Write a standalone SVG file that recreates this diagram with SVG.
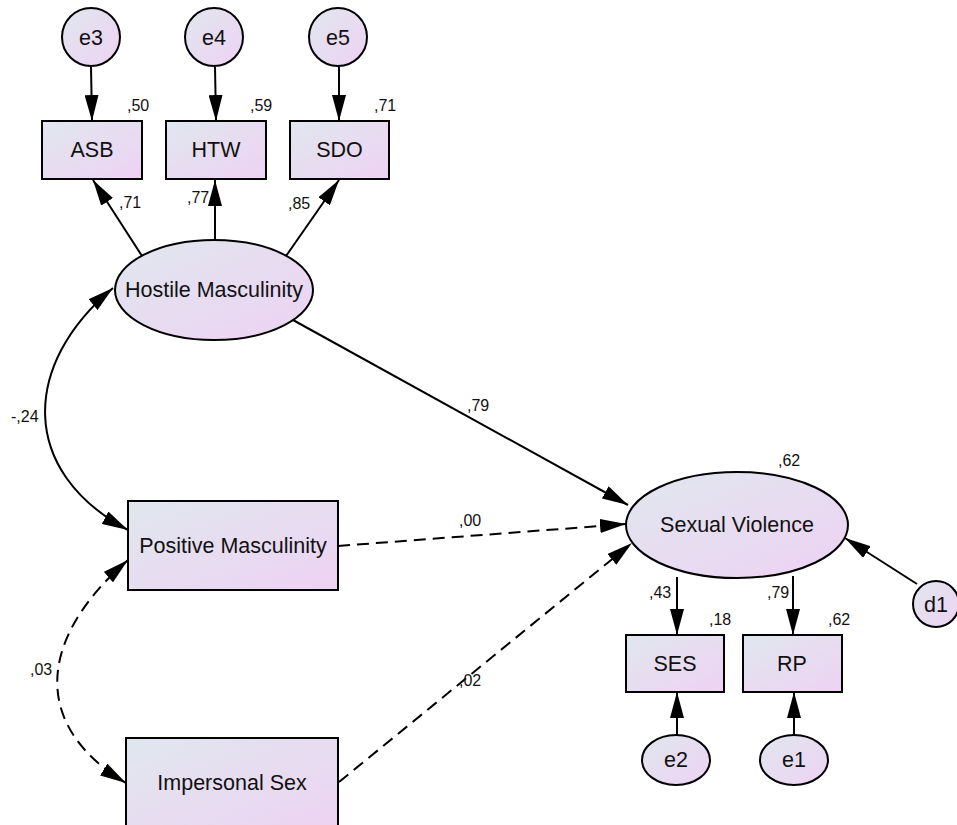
<svg xmlns="http://www.w3.org/2000/svg" width="957" height="825" viewBox="0 0 957 825">
<style>
.shape{fill:url(#g);stroke:#000;stroke-width:2}
.lbl{font-family:"Liberation Sans",Arial,sans-serif;font-size:21.5px;fill:#111;text-anchor:middle}
.num{font-family:"Liberation Sans",Arial,sans-serif;font-size:16px;fill:#111}
.c{fill:none;stroke:#000;stroke-width:2}
.a{marker-end:url(#ah)}
.d{stroke-dasharray:12 7}
</style>
<defs>
<linearGradient id="g" x1="0" y1="0" x2="1" y2="1">
<stop offset="0" stop-color="#e0e7ee"/>
<stop offset="1" stop-color="#eed2f3"/>
</linearGradient>
<marker id="ah" markerUnits="userSpaceOnUse" markerWidth="26" markerHeight="14" refX="26" refY="7" orient="auto-start-reverse" viewBox="0 0 26 14">
<path d="M0,0 L26,7 L0,14 z" fill="#000"/>
</marker>
</defs>
<rect width="957" height="825" fill="#fff"/>
<g id="connectors">
<line class="c a" x1="91" y1="67" x2="92" y2="121"/>
<line class="c a" x1="215" y1="67" x2="216" y2="121"/>
<line class="c a" x1="339" y1="67" x2="339" y2="121"/>
<line class="c a" x1="142" y1="256" x2="93" y2="180"/>
<line class="c a" x1="215" y1="240" x2="215" y2="180"/>
<line class="c a" x1="286" y1="256" x2="339" y2="180"/>
<line class="c a" x1="293" y1="320" x2="628" y2="505"/>
<line class="c a d" x1="338" y1="546" x2="626" y2="524"/>
<line class="c a d" x1="339" y1="782" x2="632" y2="543"/>
<path class="c" d="M113,288 C22,364 18,471 128,530" marker-start="url(#ah)" marker-end="url(#ah)"/>
<path class="c d" d="M128,560 C35,641 33,727 126,783" marker-start="url(#ah)" marker-end="url(#ah)"/>
<line class="c a" x1="677" y1="577" x2="677" y2="635"/>
<line class="c a" x1="793" y1="576" x2="793" y2="635"/>
<line class="c a" x1="677" y1="735" x2="677" y2="692"/>
<line class="c a" x1="794" y1="735" x2="794" y2="692"/>
<line class="c a" x1="917" y1="584" x2="845" y2="538"/>
<text class="num" x="119" y="208">,71</text>
<text class="num" x="187" y="203">,77</text>
<text class="num" x="288" y="209">,85</text>
<text class="num" x="467" y="411">,79</text>
<text class="num" x="459" y="526">,00</text>
<text class="num" x="459" y="686">,02</text>
<text class="num" x="11" y="422">-,24</text>
<text class="num" x="30" y="675">,03</text>
<text class="num" x="649" y="598">,43</text>
<text class="num" x="767" y="598">,79</text>
</g>
<g id="e3"><circle class="shape" cx="91" cy="37" r="29"/><text class="lbl" x="91" y="45">e3</text></g>
<g id="e4"><circle class="shape" cx="214" cy="37" r="29"/><text class="lbl" x="214" y="45">e4</text></g>
<g id="e5"><circle class="shape" cx="338" cy="37" r="29"/><text class="lbl" x="338" y="45">e5</text></g>
<g id="ASB"><rect class="shape" x="42" y="121" width="100" height="58"/><text class="lbl" x="92" y="157">ASB</text><text class="num" x="127" y="111">,50</text></g>
<g id="HTW"><rect class="shape" x="166" y="121" width="100" height="58"/><text class="lbl" x="216" y="157">HTW</text><text class="num" x="250" y="111">,59</text></g>
<g id="SDO"><rect class="shape" x="290" y="121" width="99" height="58"/><text class="lbl" x="339.5" y="157">SDO</text><text class="num" x="374" y="111">,71</text></g>
<g id="HM"><ellipse class="shape" cx="214" cy="290" rx="99" ry="50"/><text class="lbl" x="214" y="297">Hostile Masculinity</text></g>
<g id="PM"><rect class="shape" x="128" y="501" width="210" height="89"/><text class="lbl" x="233" y="553">Positive Masculinity</text></g>
<g id="IS"><rect class="shape" x="126" y="738" width="212" height="100"/><text class="lbl" x="232" y="790">Impersonal Sex</text></g>
<g id="SV"><ellipse class="shape" cx="737" cy="525" rx="111" ry="53"/><text class="lbl" x="737" y="532">Sexual Violence</text><text class="num" x="778" y="466">,62</text></g>
<g id="SES"><rect class="shape" x="626" y="635" width="98" height="57"/><text class="lbl" x="675" y="671">SES</text><text class="num" x="709" y="625">,18</text></g>
<g id="RP"><rect class="shape" x="743" y="635" width="99" height="57"/><text class="lbl" x="792" y="671">RP</text><text class="num" x="828" y="625">,62</text></g>
<g id="e2"><ellipse class="shape" cx="676" cy="760" rx="34" ry="25"/><text class="lbl" x="676" y="767">e2</text></g>
<g id="e1"><ellipse class="shape" cx="794" cy="760" rx="34" ry="25"/><text class="lbl" x="794" y="767">e1</text></g>
<g id="d1"><circle class="shape" cx="936" cy="604" r="23"/><text class="lbl" x="936" y="612">d1</text></g>
</svg>
